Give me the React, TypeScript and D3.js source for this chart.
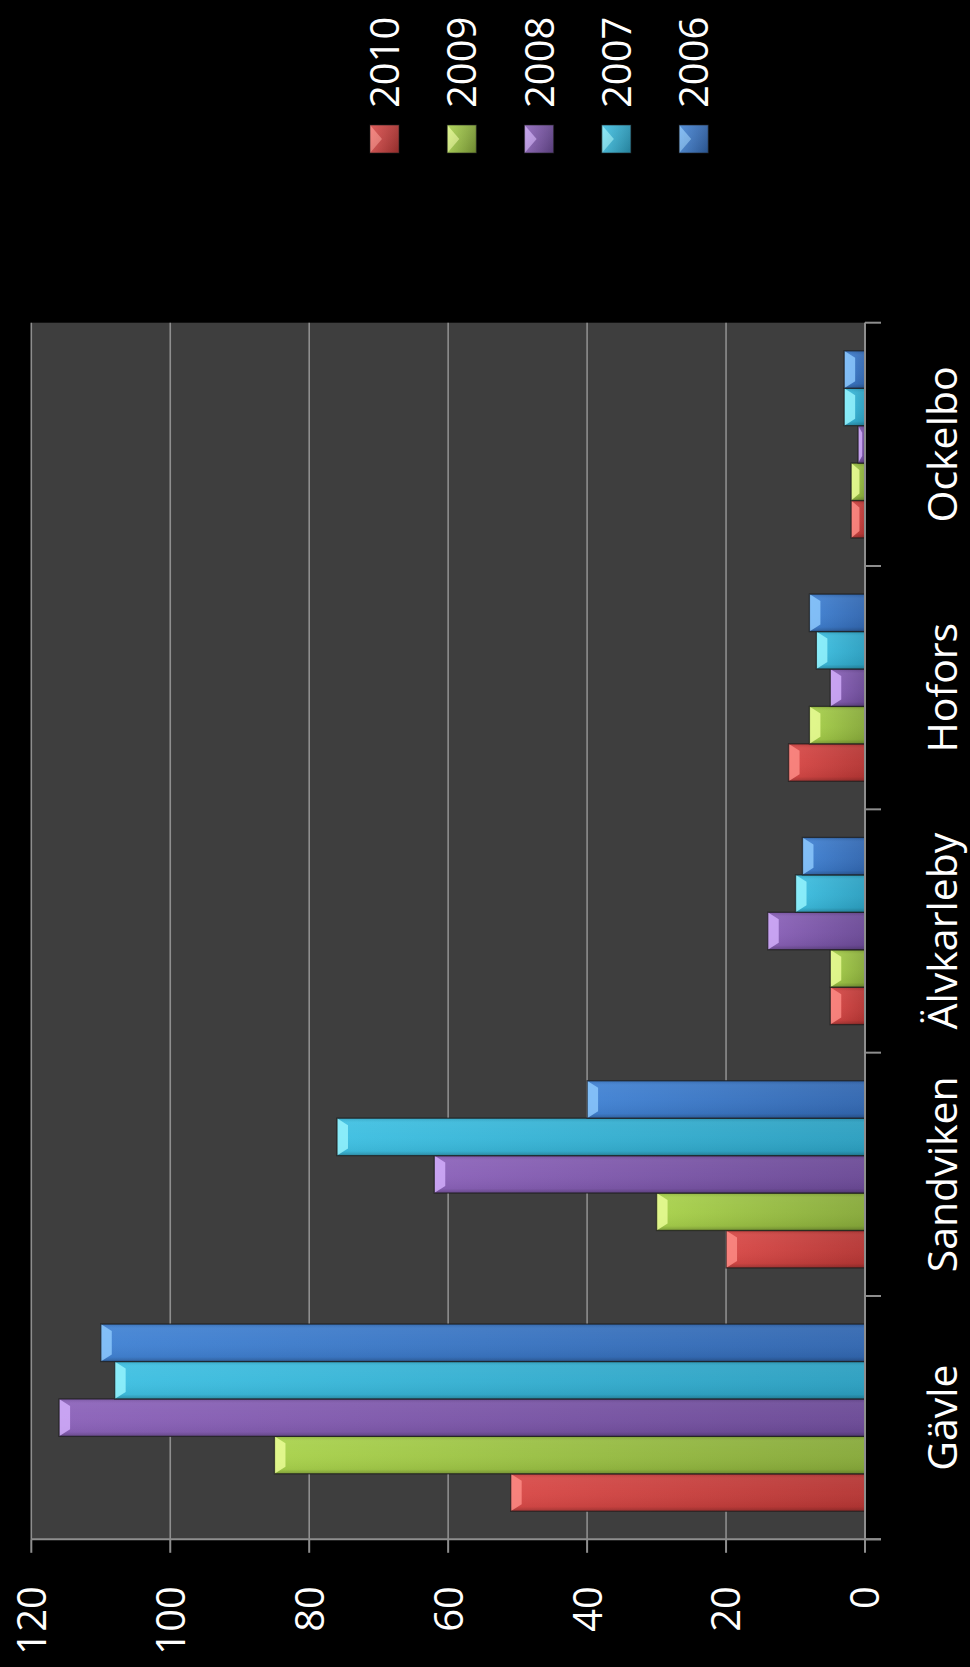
import React, { useEffect } from "react";
import * as d3 from "d3";

// ---- data ----
const categories = ["Gävle", "Sandviken", "Älvkarleby", "Hofors", "Ockelbo"];
const seriesNames = ["2010", "2009", "2008", "2007", "2006"];
const values2010 = [51, 20, 5, 11, 2];
const values2009 = [85, 30, 5, 8, 2];
const values2008 = [116, 62, 14, 5, 1];
const values2007 = [108, 76, 10, 7, 3];
const values2006 = [110, 40, 9, 8, 3];
const valueTicks = [0, 20, 40, 60, 80, 100, 120];

const seriesValues = [values2010, values2009, values2008, values2007, values2006];
// main-left, main-right, bevel highlight
const seriesColors = [
  ["#d94a48", "#b53634", "#ff8e88"],
  ["#a9d24c", "#87a93a", "#eeff9a"],
  ["#8c63ba", "#6b4a96", "#d6b2ff"],
  ["#3fc0e2", "#2c9fc0", "#9af6ff"],
  ["#4283d4", "#3267b0", "#90ccff"],
];

const W = 970;
const H = 1667;
const PLOT = { left: 31.3, right: 865, top: 322.7, bottom: 1539.3 };
const FONT = "'Open Sans', 'Liberation Sans', sans-serif";

function Bar({ x0, x1, y, h, si }: { x0: number; x1: number; y: number; h: number; si: number }) {
  const w = x1 - x0;
  if (w <= 0) return null;
  const bx = Math.min(11, w * 0.6);
  const by = Math.min(7, h / 3);
  const pts = `${x0},${y} ${x0 + bx},${y + by} ${x0 + bx},${y + h - by} ${x0},${y + h}`;
  return (
    <g>
      <rect x={x0} y={y} width={w} height={h} fill={`url(#grad-${si})`} />
      <rect x={x0} y={y} width={w} height={h} fill="url(#shade)" />
      <polygon points={pts} fill={seriesColors[si][2]} opacity={0.8} />
      <rect x={x0} y={y} width={w} height={h} fill="none" stroke="#1c1c1c" strokeOpacity={0.75} strokeWidth={1.3} />
    </g>
  );
}

export default function App() {
  useEffect(() => {
    document.body.style.margin = "0";
    document.body.style.background = "#000";
  }, []);

  const x = d3.scaleLinear().domain([0, 120]).range([PLOT.right, PLOT.left]);
  const yCat = d3
    .scaleBand<string>()
    .domain(categories)
    .range([PLOT.bottom, PLOT.top])
    .paddingInner(0.2308)
    .paddingOuter(0.1154);
  const ySer = d3.scaleBand<string>().domain(seriesNames).range([yCat.bandwidth(), 0]);
  const bounds = d3.range(categories.length + 1).map((i) => PLOT.top + i * yCat.step());

  const legendX0 = 384.5;
  const legendStep = 77.3;

  return (
    <svg
      width={W}
      height={H}
      viewBox={`0 0 ${W} ${H}`}
      style={{ position: "absolute", left: 0, top: 0, display: "block", background: "#000" }}
    >
      <defs>
        {seriesColors.map((c, i) => (
          <linearGradient key={i} id={`grad-${i}`} x1="0" y1="0" x2="1" y2="0">
            <stop offset="0" stopColor={c[0]} />
            <stop offset="1" stopColor={c[1]} />
          </linearGradient>
        ))}
        <linearGradient id="shade" x1="0" y1="0" x2="0" y2="1">
          <stop offset="0" stopColor="#000" stopOpacity={0.12} />
          <stop offset="0.12" stopColor="#fff" stopOpacity={0.06} />
          <stop offset="0.5" stopColor="#fff" stopOpacity={0.03} />
          <stop offset="0.88" stopColor="#000" stopOpacity={0.05} />
          <stop offset="1" stopColor="#000" stopOpacity={0.25} />
        </linearGradient>
        <linearGradient id="legshade" x1="0" y1="0" x2="1" y2="1">
          <stop offset="0" stopColor="#fff" stopOpacity={0.1} />
          <stop offset="1" stopColor="#000" stopOpacity={0.2} />
        </linearGradient>
      </defs>

      <rect x={0} y={0} width={W} height={H} fill="#000" />

      {/* plot area */}
      <rect
        x={PLOT.left}
        y={PLOT.top}
        width={PLOT.right - PLOT.left}
        height={PLOT.bottom - PLOT.top}
        fill="#3e3e3e"
      />

      {/* gridlines */}
      {valueTicks.map((t) => (
        <line key={`g${t}`} x1={x(t)} x2={x(t)} y1={PLOT.top} y2={PLOT.bottom} stroke="#8e8e8e" strokeWidth={1.6} />
      ))}

      {/* bars */}
      {categories.map((c, ci) =>
        seriesNames.map((s, si) => {
          const v = seriesValues[si][ci];
          const y = (yCat(c) as number) + (ySer(s) as number);
          return <Bar key={`${c}-${s}`} x0={x(v)} x1={x(0)} y={y} h={ySer.bandwidth()} si={si} />;
        })
      )}

      {/* value axis */}
      <line x1={PLOT.left} x2={PLOT.right + 16} y1={PLOT.bottom} y2={PLOT.bottom} stroke="#8e8e8e" strokeWidth={2} />
      {valueTicks.map((t) => (
        <line key={`t${t}`} x1={x(t)} x2={x(t)} y1={PLOT.bottom} y2={PLOT.bottom + 13.5} stroke="#8e8e8e" strokeWidth={2} />
      ))}
      {valueTicks.map((t) => (
        <text
          key={`l${t}`}
          transform={`translate(${x(t)},1586) rotate(-90)`}
          textAnchor="end"
          dy="0.36em"
          fill="#fff"
          fontFamily={FONT}
          fontSize={40}
        >
          {t}
        </text>
      ))}

      {/* category axis */}
      <line x1={PLOT.right} x2={PLOT.right} y1={PLOT.top} y2={PLOT.bottom} stroke="#8e8e8e" strokeWidth={2} />
      {bounds.map((b, i) => (
        <line key={`cb${i}`} x1={PLOT.right} x2={PLOT.right + 16} y1={b} y2={b} stroke="#8e8e8e" strokeWidth={2} />
      ))}
      {categories.map((c) => (
        <text
          key={`c${c}`}
          transform={`translate(957,${(yCat(c) as number) + yCat.bandwidth() / 2}) rotate(-90)`}
          textAnchor="middle"
          fill="#fff"
          fontFamily={FONT}
          fontSize={41}
        >
          {c}
        </text>
      ))}

      {/* legend */}
      {seriesNames.map((s, i) => {
        const cx = legendX0 + i * legendStep;
        const sq = 29;
        const sx = cx - sq / 2;
        const sy = 125;
        return (
          <g key={`leg${s}`}>
            <rect x={sx} y={sy} width={sq} height={28} fill={`url(#grad-${i})`} />
            <polygon
              points={`${sx},${sy} ${sx + 12},${sy + 14} ${sx},${sy + 28}`}
              fill={seriesColors[i][2]}
              opacity={0.7}
            />
            <rect x={sx} y={sy} width={sq} height={28} fill="url(#legshade)" />
            <rect x={sx} y={sy} width={sq} height={28} fill="none" stroke="#222" strokeOpacity={0.6} strokeWidth={1} />
            <text
              transform={`translate(${cx},108) rotate(-90)`}
              textAnchor="start"
              dy="0.36em"
              fill="#fff"
              fontFamily={FONT}
              fontSize={40}
            >
              {s}
            </text>
          </g>
        );
      })}
    </svg>
  );
}
